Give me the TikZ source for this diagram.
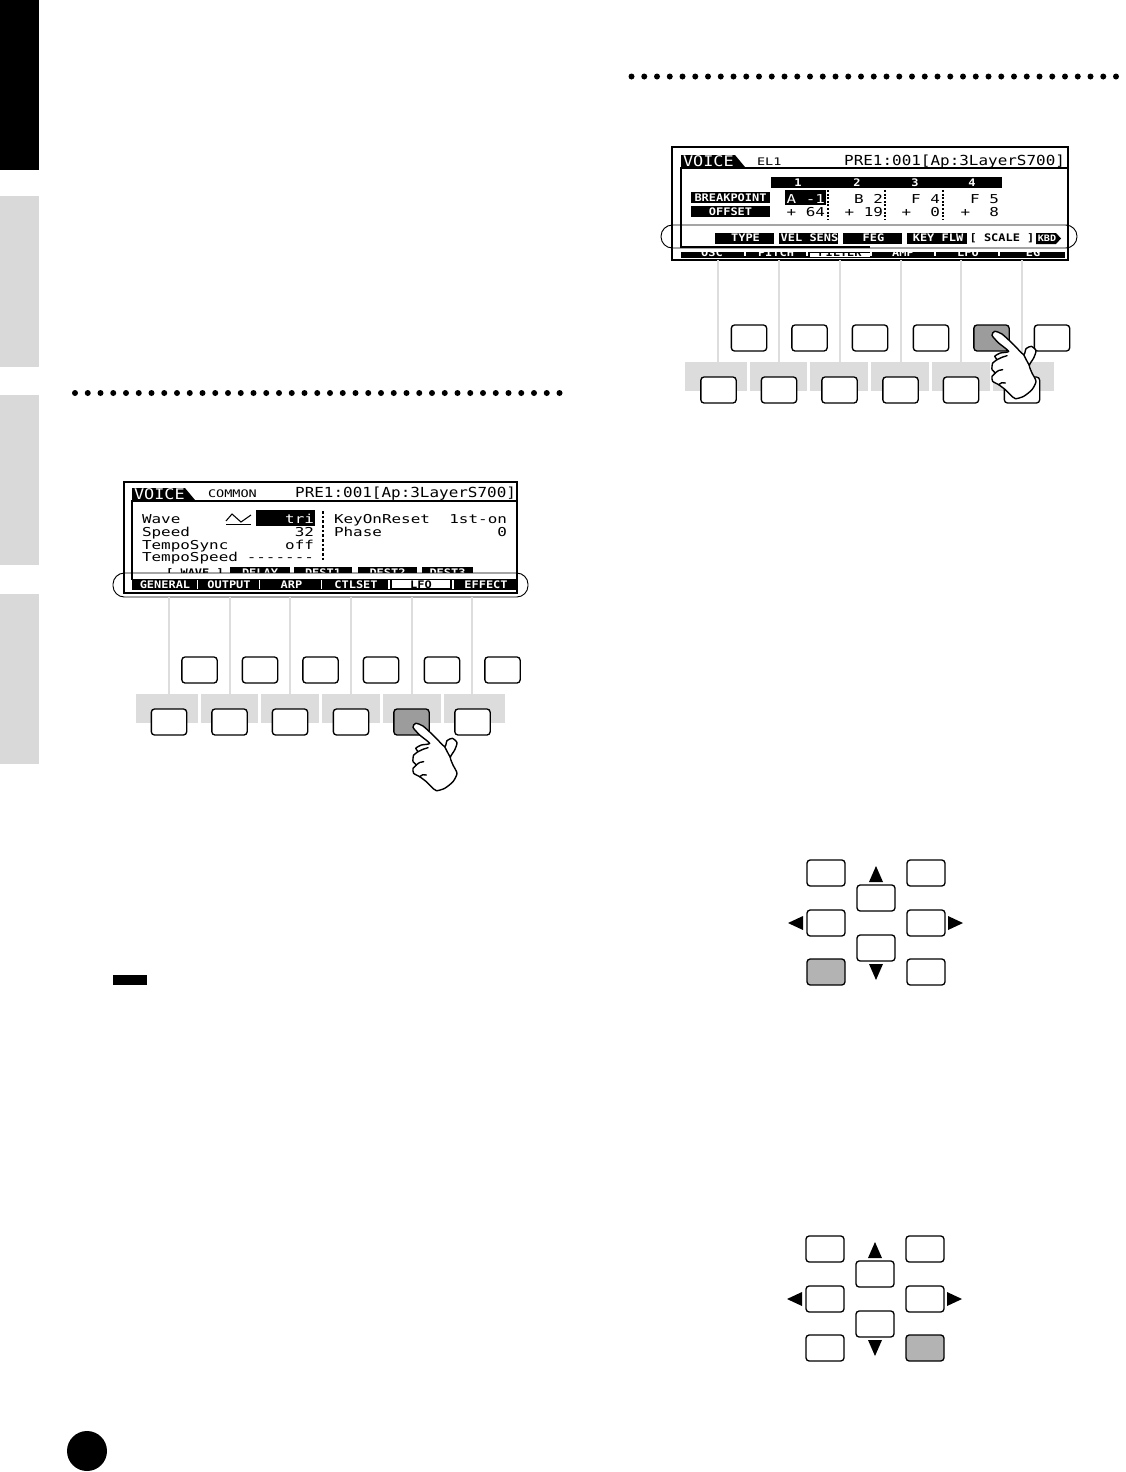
\documentclass[tikz,border=0pt]{standalone}
\usepackage{fontspec}
\setmainfont{Liberation Sans}
\newfontfamily\lcdw[FakeStretch=1.3]{DejaVu Sans Mono}
\newfontfamily\lcdt[FakeStretch=1.15]{DejaVu Sans Mono}
\newcommand{\handat}[2]{%
 \begin{scope}[shift={(#1,#2)},x=.25pt,y=-.25pt]
  \draw[handline,fill=white] plot[smooth cycle,tension=.4] coordinates {(0,7) (8,-5) (30,3) (65,35) (95,65) (102,47) (118,40) (132,53) (125,75) (112,97) (120,120) (132,145) (120,170) (95,190) (70,197) (55,185) (40,170) (20,155) (2,145) (0,130) (10,120) (0,110) (2,90) (15,80) (8,70) (25,60) (50,55) (20,30)};
  \draw[handline] (15,80) .. controls (25,75) and (35,70) .. (45,68);
  \draw[handline] (10,120) .. controls (18,112) and (25,110) .. (32,110);
  \draw[handline] (20,155) .. controls (26,148) and (32,148) .. (40,150);
  \draw[handline] (95,65) .. controls (100,75) and (105,85) .. (112,97);
 \end{scope}}
\tikzset{
 x=.75pt,y=-.75pt,
 btn/.style={draw=black,line width=1pt,rounded corners=2.4pt,fill=white,minimum width=26.5pt,minimum height=19.5pt,inner sep=0pt,outer sep=0pt},
 feeder/.style={draw=linegrey,line width=.9pt},
 handline/.style={draw=black,line width=1.05pt,line join=round,line cap=round},
 lcdframe/.style={draw=black,line width=1pt},
 oval/.style={draw=black,line width=.7pt,fill=white,rounded corners=8.5pt},
 big/.style={font=\lcdw\fontsize{9.2}{10}\selectfont,text=black,inner sep=0pt,outer sep=0pt},
 header/.style={font=\lcdt\fontsize{10.4}{11}\selectfont,text=black,inner sep=0pt,outer sep=0pt},
 voicet/.style={font=\lcdt\fontsize{11}{12}\selectfont,text=white,inner sep=0pt,outer sep=0pt},
 small/.style={font=\lcdw\fontsize{7.8}{8}\selectfont,inner sep=0pt,outer sep=0pt},
 tabt/.style={font=\lcdt\bfseries\fontsize{7.8}{8}\selectfont,text=white,inner sep=0pt,outer sep=0pt},
 tabk/.style={tabt,text=black},
 dotrow/.style={fill=black},
 arrowtip/.style={fill=black},
}
\definecolor{bandgrey}{HTML}{DCDCDC}
\definecolor{linegrey}{HTML}{DDDDDD}
\definecolor{pressgrey}{HTML}{9C9C9C}
\definecolor{keygrey}{HTML}{B3B3B3}
\definecolor{sidegrey}{HTML}{D9D9D9}
\begin{document}
\begin{tikzpicture}
\useasboundingbox (0,0) rectangle (1126,1472);
% side tabs
\fill[black] (0,0) rectangle (39,170);
\fill[sidegrey] (0,196) rectangle (39,367);
\fill[sidegrey] (0,395) rectangle (39,565);
\fill[sidegrey] (0,594) rectangle (39,764);
% dotted rules
\foreach \k in {0,...,38} \fill[dotrow] ({75+12.75*\k},393) circle[radius=3];
\foreach \k in {0,...,38} \fill[dotrow] ({631.5+12.75*\k},76.5) circle[radius=3];
% note mark, page disc
\fill[black] (113,975) rectangle (147,985);
\fill[black] (87,1451) circle[radius=20];

% ---------- LEFT LCD ----------
\begin{scope}
 \clip (124,560) rectangle (517,573);
 \foreach \a/\b/\t in {230/290/DELAY,294/352/DEST1,358/417/DEST2,422/473/DEST3} {
  \fill[black] (\a,567) rectangle (\b,574);
  \node[tabt,anchor=base] at ({(\a+\b)/2},576) {\t};
 }
 \node[tabk,anchor=base] at (195,576) {[ WAVE ]};
\end{scope}
\path[oval] (113,573) rectangle (528,597);
\draw[lcdframe] (124,482) rectangle (517,593);
\draw[lcdframe] (132,580) -- (132,501) -- (517,501);
\fill[black] (132,488) -- (185,488) -- (195,500) -- (132,500) -- cycle;
\node[voicet,anchor=base west] (lvoice) at (134,499) {VOICE};
\node[small,anchor=base west] (lcommon) at (208,497.5) {COMMON};
\node[header,anchor=base east] (lpre) at (516,497.5) {PRE1:001[Ap:3LayerS700]};
\node[big,anchor=base west] (lwave) at (142,523.5) {Wave};
\node[big,anchor=base west] (lspeed) at (142,536) {Speed};
\node[big,anchor=base west] (lsync) at (142,549) {TempoSync};
\node[big,anchor=base west] (ltspeed) at (142,561.5) {TempoSpeed};
\fill[black] (256,510) rectangle (315,526);
\node[big,text=white,anchor=base east] (ltri) at (314,523.5) {tri};
\node[big,anchor=base east] (l32) at (314,536) {32};
\node[big,anchor=base east] (loff) at (314,549) {off};
\node[big,anchor=base east] (ldash) at (314,561.5) {-------};
\draw[black,line width=.9pt] (226,524.5) -- (251,524.5);
\draw[black,line width=.8pt] (226,521) -- (232,514) -- (241,522) -- (251,515);
\draw[black,line width=1.4pt,dash pattern=on 2pt off 1.5pt] (323,511) -- (323,561);
\node[big,anchor=base west] (lkey) at (334,523.5) {KeyOnReset};
\node[big,anchor=base east] (lfirst) at (507,523.5) {1st-on};
\node[big,anchor=base west] (lphase) at (334,536) {Phase};
\node[big,anchor=base east] (lzero) at (507,536) {0};
% bottom tabs
\fill[black] (132,579) rectangle (517,589.5);
\foreach \a/\b/\t in {132/196/GENERAL,198/258/OUTPUT,261/320/ARP,323/387/CTLSET,454/516/EFFECT} {
 \node[tabt,anchor=base] at ({(\a+\b)/2+1},588) {\t};
}
\foreach \g in {196.5,258.5,320.5,388,452} \fill[white] (\g,580) rectangle (\g+1.5,589);
\fill[white] (392,580) rectangle (450,588);
\node[tabk,anchor=base] at (421,588) {LFO};

% ---------- RIGHT LCD ----------
\draw[lcdframe,fill=white] (672,147) rectangle (1068,260);
\fill[black] (681,252) rectangle (1065,258);
\fill[white] (810,253) rectangle (870,257);
\begin{scope}
 \clip (672,252.5) rectangle (1068,259);
 \foreach \x/\t in {712/OSC,776/PITCH,903/AMP,968/LFO,1033/EG} \node[tabt,anchor=base] at (\x,256.5) {\t};
 \node[tabk,anchor=base] at (840,256.5) {FILTER};
\end{scope}
\foreach \g in {744,806,870,934,998} \fill[white] (\g,252) rectangle (\g+2,256);
\path[oval] (661,225) rectangle (1077,248);
\draw[lcdframe] (672,225) -- (672,248);
\draw[lcdframe] (1068,225) -- (1068,248);
\draw[lcdframe] (870,247) -- (681,247) -- (681,168) -- (1068,168);
\fill[black] (681,155) -- (735,155) -- (745,167) -- (681,167) -- cycle;
\node[voicet,anchor=base west] (rvoice) at (683,166.5) {VOICE};
\node[small,anchor=base west] (rel) at (757,165) {EL1};
\node[header,anchor=base east] (rpre) at (1065,165) {PRE1:001[Ap:3LayerS700]};
\fill[black] (771,177) rectangle (1002,188);
\foreach \x/\t in {798/1,857/2,915/3,972/4} \node[tabt,anchor=base] at (\x,186) {\t};
\fill[black] (691,192) rectangle (770,203);
\fill[black] (691,206) rectangle (770,217);
\node[tabt,anchor=base] (rbp) at (730.5,201.5) {BREAKPOINT};
\node[tabt,anchor=base] (roff) at (730.5,215.5) {OFFSET};
\fill[black] (785,190) rectangle (826,205);
\node[big,text=white,anchor=base east] (ra) at (825,203) {A -1};
\node[big,anchor=base east] (rb) at (883,203) {B 2};
\node[big,anchor=base east] (rf) at (940,203) {F 4};
\node[big,anchor=base east] (rg) at (999,203) {F 5};
\node[big,anchor=base east] (r64) at (825,216) {+ 64};
\node[big,anchor=base east] (r19) at (883,216) {+ 19};
\node[big,anchor=base east] (r0) at (940,216) {+\ \ 0};
\node[big,anchor=base east] (r8) at (999,216) {+\ \ 8};
\foreach \x in {828,885,943} \draw[black,line width=1pt,dash pattern=on 1.5pt off 1.2pt] (\x,190) -- (\x,220);
\foreach \a/\b/\t in {715/774/TYPE,779/838/VEL SENS,843/902/FEG,907/967/KEY FLW} {
 \fill[black] (\a,233) rectangle (\b,244);
 \node[tabt,anchor=base] at ({(\a+\b)/2+1},241.5) {\t};
}
\node[tabk,anchor=base] (rscale) at (1002,241.5) {[ SCALE ]};
\fill[black] (1036,233) -- (1056,233) -- (1061,238.5) -- (1056,244) -- (1036,244) -- cycle;
\node[tabt,font=\lcdt\bfseries\fontsize{6.6}{7}\selectfont,anchor=base] (rkbd) at (1047,241.5) {KBD};

% ---------- BUTTON ROWS ----------
% left
\foreach \a/\b in {136/198,201/258,261/319,322/380,383/441,444/505}
 \fill[bandgrey] (\a,694) rectangle (\b,723);
\foreach \i/\x in {1/169,2/230,3/290,4/351,5/412,6/472} {
 \coordinate (lt\i) at (\x,597);
 \coordinate (lb\i) at (\x,694);
 \draw[feeder] (lt\i) -- (lb\i);
}
\foreach \i/\x in {1/199.5,2/260,3/320.5,4/381,5/442,6/502.5}
 \node[btn] (lu\i) at (\x,670) {};
\foreach \i/\x/\f in {1/169/white,2/229.5/white,3/290/white,4/351/white,5/411.5/pressgrey,6/472.5/white}
 \node[btn,fill=\f] (ld\i) at (\x,722) {};
\handat{413}{725}
% right
\foreach \a/\b in {685/747,750/807,810/868,871/929,932/990,993/1054}
 \fill[bandgrey] (\a,362) rectangle (\b,391);
\foreach \i/\x in {1/718,2/779,3/840,4/901,5/961,6/1022} {
 \coordinate (rt\i) at (\x,260);
 \coordinate (rb\i) at (\x,362);
 \draw[feeder] (rt\i) -- (rb\i);
}
\foreach \i/\x/\f in {1/749/white,2/809.5/white,3/870/white,4/931/white,5/991.5/pressgrey,6/1052/white}
 \node[btn,fill=\f] (ru\i) at (\x,338) {};
\foreach \i/\x in {1/718.5,2/779,3/839.5,4/900.5,5/961,6/1022}
 \node[btn] (rd\i) at (\x,390) {};
\handat{992}{333}

% ---------- CURSOR CLUSTERS ----------
\foreach \n/\dx/\dy/\fa/\fb in {a/0/0/keygrey/white,b/-1/376/white/keygrey} {
 \node[btn,minimum width=28.5pt] (\n tl) at (826+\dx,873+\dy) {};
 \node[btn,minimum width=28.5pt] (\n tr) at (926+\dx,873+\dy) {};
 \node[btn,minimum width=28.5pt] (\n ml) at (826+\dx,923+\dy) {};
 \node[btn,minimum width=28.5pt] (\n mr) at (926+\dx,923+\dy) {};
 \node[btn,minimum width=28.5pt,fill=\fa] (\n bl) at (826+\dx,972+\dy) {};
 \node[btn,minimum width=28.5pt,fill=\fb] (\n br) at (926+\dx,972+\dy) {};
 \node[btn,minimum width=28.5pt] (\n up) at (876+\dx,898+\dy) {};
 \node[btn,minimum width=28.5pt] (\n dn) at (876+\dx,948+\dy) {};
 \fill[arrowtip] (876+\dx,866+\dy) -- (883+\dx,882+\dy) -- (869+\dx,882+\dy) -- cycle;
 \fill[arrowtip] (876+\dx,980+\dy) -- (883+\dx,964+\dy) -- (869+\dx,964+\dy) -- cycle;
 \fill[arrowtip] (788+\dx,923+\dy) -- (803+\dx,916+\dy) -- (803+\dx,930+\dy) -- cycle;
 \fill[arrowtip] (963+\dx,923+\dy) -- (948+\dx,916+\dy) -- (948+\dx,930+\dy) -- cycle;
}
\end{tikzpicture}
\end{document}
